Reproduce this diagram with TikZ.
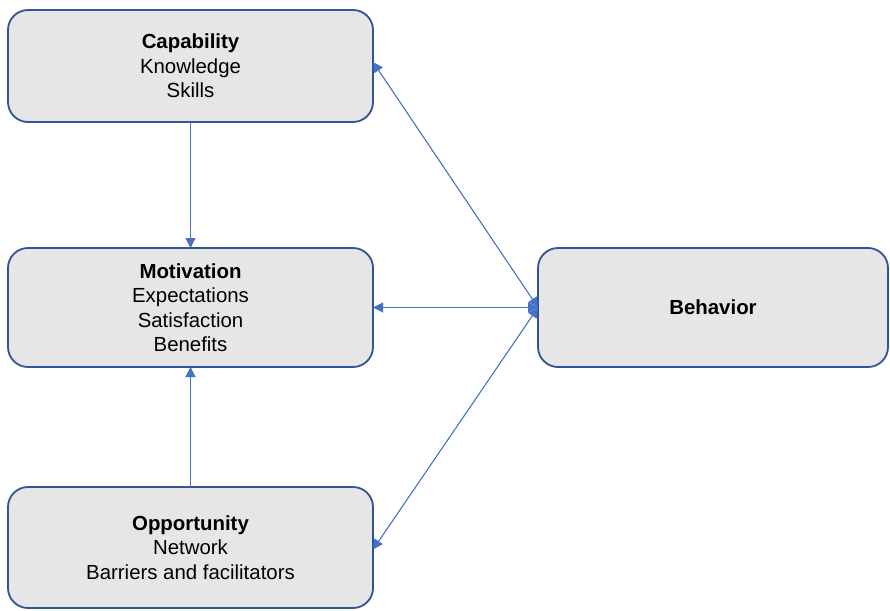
\documentclass[tikz,border=0pt]{standalone}
\usepackage{fontspec}
\setmainfont{Liberation Sans}
\usetikzlibrary{arrows.meta}
\definecolor{boxfill}{HTML}{E6E6E6}
\definecolor{boxline}{HTML}{2F5597}
\definecolor{link}{HTML}{4472C4}
\begin{document}
\begin{tikzpicture}[x=1pt,y=-1pt,
  factor/.style={draw=boxline, line width=1.8pt, fill=boxfill, rounded corners=20pt,
    inner sep=0pt, outer sep=0pt, align=center,
    font=\fontsize{20.4}{24.5}\selectfont},
  link/.style={draw=link, line width=1.1pt,
    {Triangle[length=10pt,width=10pt]}-{Triangle[length=10pt,width=10pt]}},
  onelink/.style={draw=link, line width=1.1pt, -{Triangle[length=10pt,width=10pt]}}]
\useasboundingbox (0,0) rectangle (890,610);

\node[factor, minimum width=365pt, minimum height=112pt] (cap) at (190.5,66)
  {\textbf{Capability}\\Knowledge\\Skills};
\node[factor, minimum width=365pt, minimum height=119pt] (mot) at (190.5,307.5)
  {\textbf{Motivation}\\Expectations\\Satisfaction\\Benefits};
\node[factor, minimum width=365pt, minimum height=121pt] (opp) at (190.5,547.5)
  {\textbf{Opportunity}\\Network\\Barriers and facilitators};
\node[factor, minimum width=350pt, minimum height=119pt] (beh) at (713,307.5)
  {\textbf{Behavior}};

% behaviour feeds back to each component
\coordinate (capin) at ([yshift=4pt]cap.east);
\coordinate (oppin) at ([yshift=-2pt]opp.east);
\draw[link] (capin) -- (beh.west);
\draw[link] (mot.east) -- (beh.west);
\draw[link] (oppin) -- (beh.west);

% capability and opportunity shape motivation
\draw[onelink] (cap.south) -- (mot.north);
\draw[onelink] (opp.north) -- (mot.south);
\end{tikzpicture}
\end{document}
